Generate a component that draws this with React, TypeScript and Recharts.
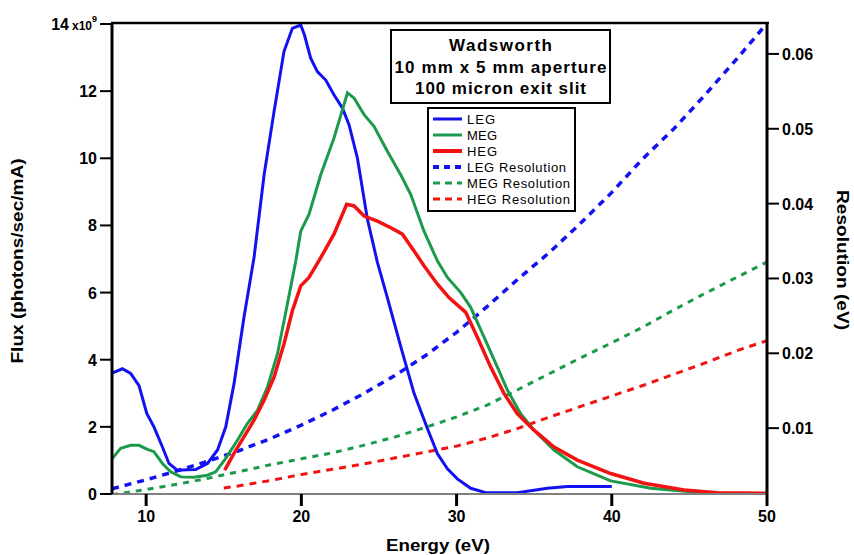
import React from 'react';
import { LineChart, Line, XAxis, YAxis } from 'recharts';

// ---- Data ----
const legX = [7.8, 8.47, 9.0, 9.54, 10.04, 10.5, 11.05, 11.47, 12.0, 12.66, 13.19, 13.95, 14.6, 15.13, 15.66, 16.3, 16.95, 17.6, 18.24, 18.88, 19.42, 19.96, 20.2, 20.6, 21.03, 21.57, 22.1, 22.65, 23.07, 23.61, 24.25, 24.9, 25.54, 26.4, 27.26, 28.12, 28.77, 29.41, 30.05, 30.91, 31.88, 33.92, 35.85, 37.14, 40.0];
const legFlux = [3.6, 3.73, 3.59, 3.23, 2.4, 2.0, 1.4, 0.91, 0.71, 0.72, 0.73, 0.91, 1.31, 2.0, 3.28, 5.26, 7.04, 9.51, 11.39, 13.18, 13.87, 13.97, 13.67, 12.98, 12.58, 12.33, 11.89, 11.49, 11.0, 10.01, 8.2, 6.9, 5.85, 4.4, 3.0, 1.95, 1.2, 0.75, 0.45, 0.17, 0.04, 0.04, 0.17, 0.22, 0.22];

const megX = [7.8, 8.36, 9.0, 9.54, 10.08, 10.5, 11.05, 11.58, 12.23, 13.08, 13.95, 14.48, 15.13, 15.88, 16.52, 17.17, 17.81, 18.46, 19.1, 19.64, 19.96, 20.49, 21.25, 22.1, 22.97, 23.4, 24.04, 24.68, 25.54, 26.4, 27.05, 27.9, 28.77, 29.41, 30.27, 30.91, 31.77, 32.63, 33.28, 34.13, 34.99, 36.28, 37.78, 39.93, 42.51, 45.73, 47.88, 50.0];
const megFlux = [1.05, 1.36, 1.45, 1.45, 1.33, 1.26, 0.91, 0.66, 0.51, 0.5, 0.56, 0.66, 1.06, 1.6, 2.1, 2.49, 3.18, 4.17, 5.66, 6.94, 7.83, 8.33, 9.51, 10.6, 11.95, 11.79, 11.3, 10.95, 10.21, 9.51, 8.92, 7.83, 6.94, 6.45, 6.0, 5.56, 4.67, 3.78, 3.09, 2.39, 1.9, 1.31, 0.81, 0.39, 0.17, 0.04, 0.01, 0.0];

const hegX = [15.06, 15.66, 16.3, 16.95, 17.6, 18.24, 18.88, 19.42, 19.96, 20.49, 21.25, 22.1, 22.92, 23.4, 24.04, 24.9, 25.76, 26.51, 27.26, 27.9, 28.77, 29.51, 30.59, 31.34, 32.2, 33.06, 33.92, 34.99, 36.28, 37.78, 39.93, 42.08, 44.66, 46.81, 50.0];
const hegFlux = [0.71, 1.21, 1.7, 2.2, 2.79, 3.48, 4.47, 5.46, 6.2, 6.45, 7.04, 7.74, 8.63, 8.58, 8.28, 8.13, 7.93, 7.74, 7.24, 6.8, 6.25, 5.85, 5.41, 4.67, 3.78, 2.99, 2.39, 1.9, 1.4, 1.01, 0.61, 0.32, 0.12, 0.04, 0.02];

const legResX = [7.8, 10, 12, 14, 16, 18, 20, 22, 24, 26, 28, 30, 32, 34, 36, 38, 40, 42, 44, 46, 48, 50];
const legRes = [0.0019, 0.0031, 0.0043, 0.0056, 0.007, 0.0086, 0.0104, 0.0124, 0.0146, 0.017, 0.0197, 0.0228, 0.0263, 0.03, 0.0335, 0.0374, 0.0415, 0.046, 0.05, 0.0545, 0.0592, 0.0641];

const megResX = [7.8, 10, 12, 14, 16, 18, 20, 22, 24, 26, 28, 30, 32, 34, 36, 38, 40, 42, 44, 46, 48, 50];
const megRes = [0.0011, 0.0018, 0.0025, 0.0033, 0.0042, 0.0051, 0.0059, 0.0067, 0.0077, 0.0088, 0.0101, 0.0115, 0.0131, 0.0152, 0.0173, 0.0194, 0.0214, 0.0235, 0.0258, 0.028, 0.0301, 0.0322];

const hegResX = [15, 16, 18, 20, 22, 24, 26, 28, 30, 32, 34, 36, 38, 40, 42, 44, 46, 48, 50];
const hegRes = [0.002, 0.0023, 0.003, 0.0038, 0.0045, 0.0052, 0.006, 0.0068, 0.0076, 0.0087, 0.01, 0.0115, 0.0129, 0.0143, 0.0157, 0.0172, 0.0187, 0.0203, 0.0217];

const xTicks = [10, 20, 30, 40, 50];
const fluxTicks = [0, 2, 4, 6, 8, 10, 12, 14];
const resTicks = [0.01, 0.02, 0.03, 0.04, 0.05, 0.06];

const titleLines = ['Wadsworth', '10 mm x 5 mm aperture', '100 micron exit slit'];
const legendNames = ['LEG', 'MEG', 'HEG', 'LEG Resolution', 'MEG Resolution', 'HEG Resolution'];

const BLUE = '#1212f0';
const GREEN = '#1c9a4c';
const RED = '#f21212';
const FONT = "'Liberation Sans', Arial, sans-serif";

const pts = (xs: number[], ys: number[]) => xs.map((x, i) => ({ x, y: ys[i] }));

const legData = pts(legX, legFlux);
const megData = pts(megX, megFlux);
const hegData = pts(hegX, hegFlux);
const legResData = pts(legResX, legRes);
const megResData = pts(megResX, megRes);
const hegResData = pts(hegResX, hegRes);

const XTick = (p: any) => (
  <text x={p.x} y={p.y + 14} textAnchor="middle" fontFamily={FONT} fontWeight="bold" fontSize={16} fill="#000">
    {p.payload.value}
  </text>
);

const FluxTick = (p: any) => {
  const v = p.payload.value;
  if (v === 14) {
    return (
      <text x={p.x} y={p.y + 6} textAnchor="end" fontFamily={FONT} fontWeight="bold" fontSize={16} fill="#000">
        <tspan>14</tspan>
        <tspan fontSize={12} dx={3}>x10</tspan>
        <tspan fontSize={9} dy={-8}>9</tspan>
      </text>
    );
  }
  return (
    <text x={p.x} y={p.y + 6} textAnchor="end" fontFamily={FONT} fontWeight="bold" fontSize={16} fill="#000">
      {v}
    </text>
  );
};

const ResTick = (p: any) => (
  <text x={p.x} y={p.y + 6} textAnchor="start" fontFamily={FONT} fontWeight="bold" fontSize={16} fill="#000">
    {p.payload.value.toFixed(2)}
  </text>
);

const legendStyles = [
  { color: BLUE, w: 3, dash: undefined },
  { color: GREEN, w: 3, dash: undefined },
  { color: RED, w: 4, dash: undefined },
  { color: BLUE, w: 4, dash: '6 5' },
  { color: GREEN, w: 3, dash: '7 5' },
  { color: RED, w: 3, dash: '7 5' },
];
const legendTextLen = [28, 30, 30, 99, 103, 103];

export default function App() {
  return (
    <div style={{ position: 'absolute', left: 0, top: 0, width: 854, height: 555, background: '#fff' }}>
      <LineChart width={854} height={555} margin={{ top: 24, right: 27, left: 52, bottom: 21 }}>
        <XAxis
          dataKey="x"
          type="number"
          domain={[7.8, 50]}
          ticks={xTicks}
          allowDataOverflow
          height={40}
          tickSize={12}
          tickMargin={2}
          axisLine={{ stroke: '#808080', strokeWidth: 2 }}
          tickLine={{ stroke: '#000', strokeWidth: 3 }}
          tick={<XTick />}
        />
        <YAxis
          yAxisId="flux"
          orientation="left"
          domain={[0, 14]}
          ticks={fluxTicks}
          allowDataOverflow
          width={60}
          tickSize={12}
          tickMargin={3}
          axisLine={{ stroke: '#000', strokeWidth: 3 }}
          tickLine={{ stroke: '#000', strokeWidth: 2 }}
          tick={<FluxTick />}
        />
        <YAxis
          yAxisId="res"
          orientation="right"
          domain={[0.0012, 0.064]}
          ticks={resTicks}
          allowDataOverflow
          width={60}
          tickSize={12}
          tickMargin={3}
          axisLine={{ stroke: '#000', strokeWidth: 3 }}
          tickLine={{ stroke: '#000', strokeWidth: 2 }}
          tick={<ResTick />}
        />
        <Line yAxisId="res" data={legResData} dataKey="y" type="linear" stroke={BLUE} strokeWidth={3.5} strokeDasharray="7 6" dot={false} activeDot={false} isAnimationActive={false} />
        <Line yAxisId="res" data={megResData} dataKey="y" type="linear" stroke={GREEN} strokeWidth={3} strokeDasharray="6 6" dot={false} activeDot={false} isAnimationActive={false} />
        <Line yAxisId="res" data={hegResData} dataKey="y" type="linear" stroke={RED} strokeWidth={3} strokeDasharray="7 6" dot={false} activeDot={false} isAnimationActive={false} />
        <Line yAxisId="flux" data={legData} dataKey="y" type="linear" stroke={BLUE} strokeWidth={3} dot={false} activeDot={false} isAnimationActive={false} />
        <Line yAxisId="flux" data={megData} dataKey="y" type="linear" stroke={GREEN} strokeWidth={3} dot={false} activeDot={false} isAnimationActive={false} />
        <Line yAxisId="flux" data={hegData} dataKey="y" type="linear" stroke={RED} strokeWidth={3.5} dot={false} activeDot={false} isAnimationActive={false} />
      </LineChart>
      <svg width={854} height={555} style={{ position: 'absolute', left: 0, top: 0, pointerEvents: 'none' }}>
        {/* top frame */}
        <line x1={111} y1={23} x2={769} y2={23} stroke="#000" strokeWidth={2.5} />
        {/* axis titles */}
        <text x={438} y={551} textAnchor="middle" fontFamily={FONT} fontWeight="bold" fontSize={17} textLength={104} lengthAdjust="spacingAndGlyphs">Energy (eV)</text>
        <text transform="translate(23,261) rotate(-90)" textAnchor="middle" fontFamily={FONT} fontWeight="bold" fontSize={16} textLength={205} lengthAdjust="spacingAndGlyphs">Flux (photons/sec/mA)</text>
        <text transform="translate(837,260) rotate(90)" textAnchor="middle" fontFamily={FONT} fontWeight="bold" fontSize={16} textLength={140} lengthAdjust="spacingAndGlyphs">Resolution (eV)</text>
        {/* title box */}
        <rect x={391} y={30} width={219} height={73} fill="#fff" stroke="#000" strokeWidth={2} />
        {titleLines.map((t, i) => (
          <text key={t} x={500.5} y={51 + i * 21.5} textAnchor="middle" fontFamily={FONT} fontWeight="bold" fontSize={17}
            textLength={[103, 212, 171][i]} lengthAdjust="spacing">{t}</text>
        ))}
        {/* legend */}
        <rect x={428} y={108} width={147} height={103} fill="#fff" stroke="#000" strokeWidth={2} />
        {legendNames.map((n, i) => {
          const yy = 119 + i * 16;
          const s = legendStyles[i];
          return (
            <g key={n}>
              <line x1={433} y1={yy} x2={462} y2={yy} stroke={s.color} strokeWidth={s.w} strokeDasharray={s.dash} />
              <text x={467} y={yy + 5} fontFamily={FONT} fontSize={13} fill="#000" textLength={legendTextLen[i]} lengthAdjust="spacing">{n}</text>
            </g>
          );
        })}
      </svg>
    </div>
  );
}
